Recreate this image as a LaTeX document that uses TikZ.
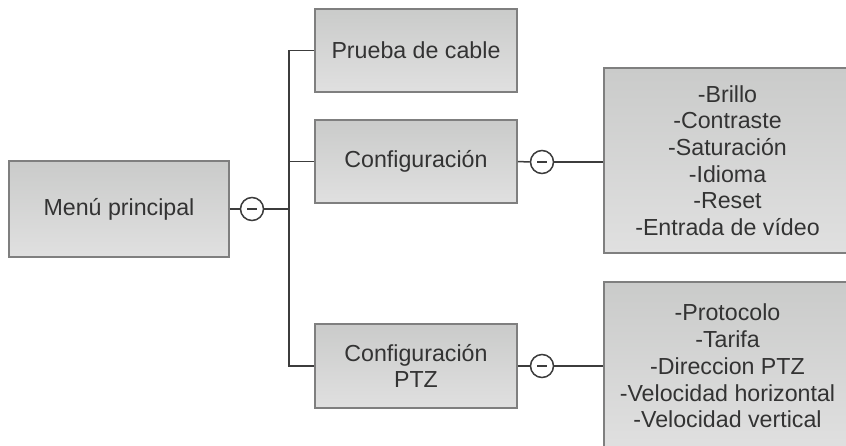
\documentclass[tikz,border=0pt]{standalone}
\usepackage{fontspec}
\setmainfont{Liberation Sans}
\definecolor{boxtop}{HTML}{CACBCA}
\definecolor{boxbot}{HTML}{E0E0E0}
\definecolor{boxline}{HTML}{7F7F7F}
\definecolor{txt}{HTML}{333333}
\definecolor{wire}{HTML}{3C3C3C}
\begin{document}
\begin{tikzpicture}[x=1pt,y=-1pt,
  box/.style={draw=boxline, line width=1.8pt, top color=boxtop, bottom color=boxbot,
    rectangle, inner sep=0pt, align=center, text=txt,
    font=\fontsize{23.2}{26.7}\selectfont},
  circ/.style={draw=wire, line width=1.5pt, fill=white, circle, inner sep=0pt,
    minimum size=23pt,
    path picture={\draw[line width=1.7pt, wire] ([xshift=-5pt]path picture bounding box.center) -- ([xshift=5pt]path picture bounding box.center);}},
  wirestyle/.style={draw=wire, line width=1.5pt}]
\useasboundingbox (0,0) rectangle (846,445);
\clip (0,0) rectangle (846,445);
% main nodes
\node[box, minimum width=220pt, minimum height=96pt] (menu) at (119,209) {Menú principal};
\node[box, minimum width=202pt, minimum height=83pt] (prueba) at (416,50.5) {Prueba de cable};
\node[box, minimum width=202pt, minimum height=83pt] (conf) at (416,161.5) {Configuración};
\node[box, minimum width=202pt, minimum height=84pt] (ptz) at (416,366) {Configuración\\PTZ};
\node[box, minimum width=247pt, minimum height=185pt] (list1) at (727.5,160.5)
  {-Brillo\\-Contraste\\-Saturación\\-Idioma\\-Reset\\-Entrada de vídeo};
\node[box, minimum width=247pt, minimum height=168pt] (list2) at (727.5,366)
  {-Protocolo\\-Tarifa\\-Direccion PTZ\\-Velocidad horizontal\\-Velocidad vertical};
% collapse circles
\node[circ] (c1) at (252,209) {};
\node[circ] (c2) at (542,162) {};
\node[circ] (c3) at (542,366) {};
% trunk
\coordinate (tk) at (289,209);
% connectors
\draw[wirestyle] (menu.east) -- (c1.west);
\draw[wirestyle] (c1.east) -- (tk);
\draw[wirestyle] (prueba.west) -| (tk |- ptz.west) -- (ptz.west);
\draw[wirestyle] (conf.west) -- (conf.west -| tk);
\draw[wirestyle] (conf.east) -- (c2.west);
\draw[wirestyle] (c2.east) -- (c2 -| list1.west);
\draw[wirestyle] (ptz.east) -- (c3.west);
\draw[wirestyle] (c3.east) -- (c3 -| list2.west);
\end{tikzpicture}
\end{document}
